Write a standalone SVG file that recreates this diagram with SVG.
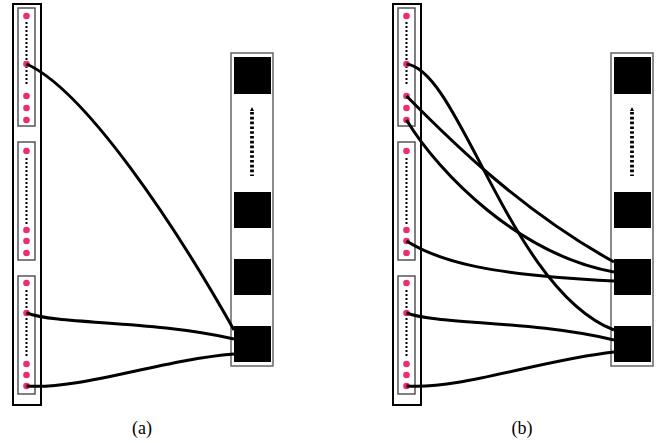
<svg xmlns="http://www.w3.org/2000/svg" width="661" height="443" viewBox="0 0 661 443">
<style>
.outer{fill:#fff;stroke:#000;stroke-width:2}
.inner{fill:#fff;stroke:#555;stroke-width:1.5}
.col{fill:#fff;stroke:#666;stroke-width:1.5}
.sq{fill:#000}
.dot{fill:#ee2d6d}
.dl{stroke:#000;stroke-width:2;stroke-dasharray:2 2;fill:none}
.da{stroke:#000;stroke-width:3.8;stroke-dasharray:2.6 2.2;fill:none}
.c{fill:none;stroke:#000;stroke-width:3}
.lab{font-family:"Liberation Serif",serif;font-size:18px;fill:#000;text-anchor:middle}
</style>
<defs>
<g id="leftCol">
<rect class="outer" x="13" y="4" width="28" height="401"/>
<rect class="inner" x="18" y="8" width="17" height="118"/>
<rect class="inner" x="18" y="142" width="17" height="118"/>
<rect class="inner" x="18" y="276" width="17" height="118"/>
<line class="dl" x1="26.5" y1="22" x2="26.5" y2="86"/>
<line class="dl" x1="26.5" y1="158" x2="26.5" y2="224"/>
<line class="dl" x1="26.5" y1="290" x2="26.5" y2="358"/>
<circle class="dot" cx="26.5" cy="16" r="3.3"/>
<circle class="dot" cx="26.5" cy="64" r="3.3"/>
<circle class="dot" cx="26.5" cy="96" r="3.3"/>
<circle class="dot" cx="26.5" cy="108" r="3.3"/>
<circle class="dot" cx="26.5" cy="120" r="3.3"/>
<circle class="dot" cx="26.5" cy="151" r="3.3"/>
<circle class="dot" cx="26.5" cy="230" r="3.3"/>
<circle class="dot" cx="26.5" cy="241" r="3.3"/>
<circle class="dot" cx="26.5" cy="253" r="3.3"/>
<circle class="dot" cx="26.5" cy="283" r="3.3"/>
<circle class="dot" cx="26.5" cy="313" r="3.3"/>
<circle class="dot" cx="26.5" cy="364" r="3.3"/>
<circle class="dot" cx="26.5" cy="375" r="3.3"/>
<circle class="dot" cx="26.5" cy="386" r="3.3"/>
</g>
<g id="rightCol">
<rect class="col" x="231" y="53" width="42" height="313"/>
<rect class="sq" x="234" y="57" width="37" height="37"/>
<rect class="sq" x="234" y="192" width="37" height="36"/>
<rect class="sq" x="234" y="259" width="37" height="36"/>
<rect class="sq" x="234" y="326" width="37" height="36"/>
<line class="da" x1="252" y1="112" x2="252" y2="176"/>
<polygon points="250,111 254,111 252,107" fill="#000"/>
</g>
</defs>
<g id="node-a-left"><use href="#leftCol"/></g>
<g id="node-a-right"><use href="#rightCol"/></g>
<g id="node-b-left"><use href="#leftCol" transform="translate(380,0)"/></g>
<g id="node-b-right"><use href="#rightCol" transform="translate(380,0)"/></g>
<g id="connectors">
<path class="c" d="M26.5,64 C85,90 175,225 234,330"/>
<path class="c" d="M26.5,313 C60,325 150,320 234,339"/>
<path class="c" d="M26.5,386 C80,390 160,360 234,354"/>
<path class="c" d="M406.5,64 C460,70 510,290 614,330"/>
<path class="c" d="M406.5,96 C450,140 520,210 614,262"/>
<path class="c" d="M406.5,120 C440,175 520,255 614,272"/>
<path class="c" d="M406.5,241 C440,262 490,275 614,281"/>
<path class="c" d="M406.5,313 C440,325 530,320 614,340"/>
<path class="c" d="M406.5,386 C460,390 540,360 614,352"/>
</g>
<text class="lab" x="142" y="434">(a)</text>
<text class="lab" x="522" y="434">(b)</text>
</svg>
